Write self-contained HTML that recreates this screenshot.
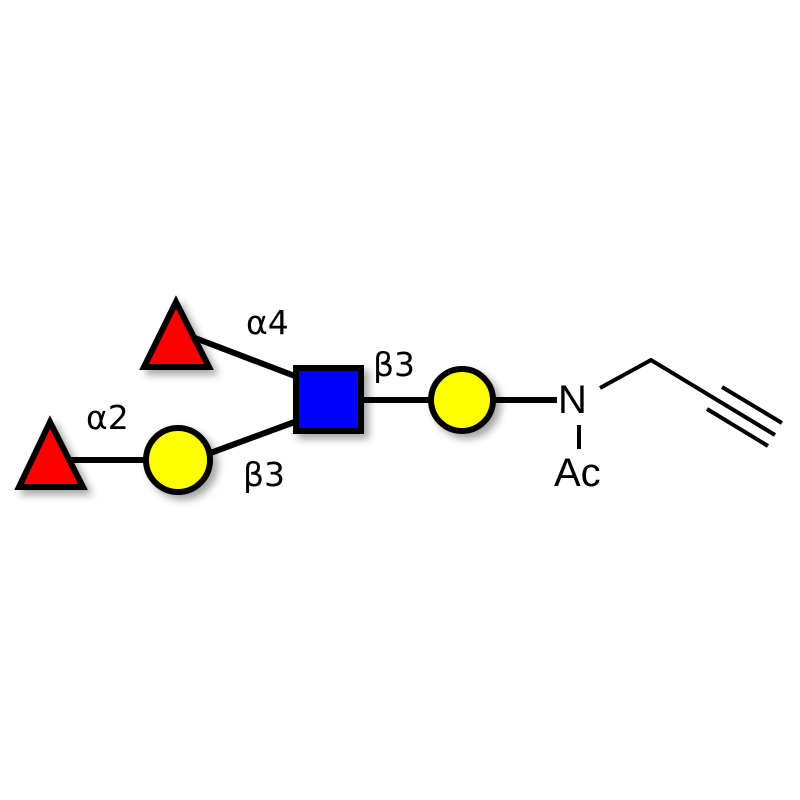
<!DOCTYPE html>
<html><head><style>body{margin:0;background:#fff}svg{display:block}</style></head>
<body>
<svg width="800" height="800" viewBox="0 0 800 800" xmlns="http://www.w3.org/2000/svg">
<defs><filter id="s" x="-30%" y="-30%" width="170%" height="170%"><feDropShadow dx="5" dy="5" stdDeviation="4" flood-color="#000" flood-opacity="0.35"/></filter></defs>
<g stroke="#000" stroke-width="6">
<line x1="195" y1="338" x2="300" y2="378"/>
<line x1="205" y1="455" x2="300" y2="420"/>
<line x1="70" y1="460" x2="150" y2="460"/>
<line x1="360" y1="400" x2="435" y2="400"/>
<line x1="490" y1="400" x2="557" y2="400"/>
</g>
<g stroke="#000" stroke-width="6" filter="url(#s)">
<polygon points="176,302 144,367 209,367" fill="#f00"/>
<polygon points="50,422 19,487 83,487" fill="#f00"/>
<rect x="296" y="368" width="65" height="63" fill="#00f"/>
<circle cx="178" cy="460" r="32" fill="#ff0"/>
<circle cx="462" cy="400" r="31" fill="#ff0"/>
</g>
<g stroke="#000" stroke-width="4" fill="none">
<polyline points="600,388 651,360 775,435"/>
<line x1="722" y1="387" x2="782" y2="423"/>
<line x1="707" y1="409" x2="768" y2="446"/>
<line x1="579" y1="425" x2="579" y2="449"/>
</g>
<g font-family="Liberation Sans, DejaVu Sans, sans-serif" fill="#000">
<text x="558" y="413" font-size="40">N</text>
<text x="554" y="486" font-size="40">Ac</text>
<g font-family="DejaVu Sans, sans-serif" font-size="33">
<text x="246" y="334">α4</text>
<text x="373" y="376">β3</text>
<text x="86" y="429">α2</text>
<text x="243" y="486">β3</text>
</g>
</g>
</svg>
</body></html>
